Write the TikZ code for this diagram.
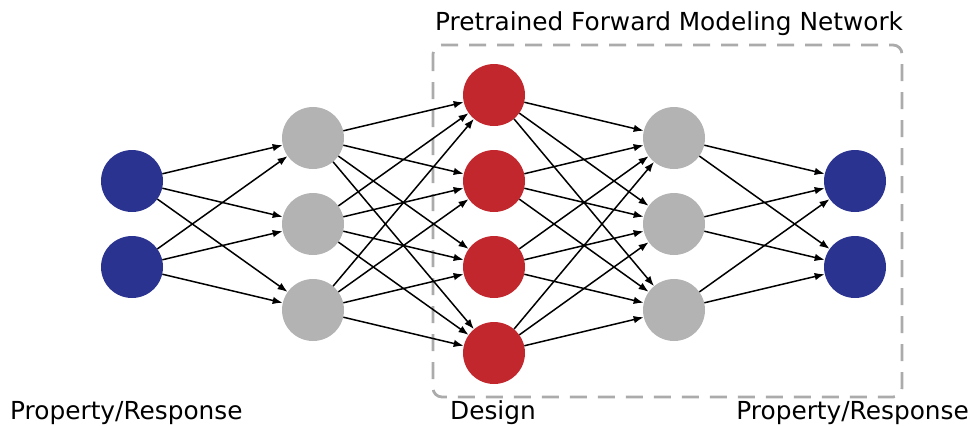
\documentclass[tikz,border=0pt]{standalone}
\usepackage{fontspec}
\setmainfont{DejaVu Sans}
\usetikzlibrary{arrows.meta,positioning}

\definecolor{netblue}{HTML}{2B3391}
\definecolor{netgray}{HTML}{B3B3B3}
\definecolor{netred}{HTML}{C1272D}
\definecolor{boxgray}{HTML}{ABABAB}

\tikzset{
  neuron/.style={circle, minimum size=62pt, inner sep=0pt, draw=none},
  wire/.style={line width=1.5pt, -{Latex[length=10pt,width=7.5pt]}},
  caption/.style={font=\fontsize{24.8}{29}\selectfont, inner sep=0pt}
}

\begin{document}
\begin{tikzpicture}[x=1pt, y=-1pt]
   \useasboundingbox (0,0) rectangle (970,426);
   % pretrained part
   \draw[boxgray, line width=2.8pt, dash pattern=on 17pt off 11pt, rounded corners=9pt]
     (433,45) rectangle (902,397);
   \node[caption, anchor=base west] (title) at (435,30) {Pretrained Forward Modeling Network};
   % layers
   \node[neuron, fill=netblue] (p1) at (132,181) {};
   \node[neuron, fill=netblue] (p2) at (132,267) {};
   \node[neuron, fill=netgray] (a1) at (313,138) {};
   \node[neuron, fill=netgray] (a2) at (313,224) {};
   \node[neuron, fill=netgray] (a3) at (313,310) {};
   \node[neuron, fill=netred] (d1) at (494,95) {};
   \node[neuron, fill=netred] (d2) at (494,181) {};
   \node[neuron, fill=netred] (d3) at (494,267) {};
   \node[neuron, fill=netred] (d4) at (494,353) {};
   \node[neuron, fill=netgray] (b1) at (674,138) {};
   \node[neuron, fill=netgray] (b2) at (674,224) {};
   \node[neuron, fill=netgray] (b3) at (674,310) {};
   \node[neuron, fill=netblue] (q1) at (855,181) {};
   \node[neuron, fill=netblue] (q2) at (855,267) {};
   % connections
   \foreach \i in {1,2} \foreach \j in {1,2,3} \draw[wire] (p\i) -- (a\j);
   \foreach \i in {1,2,3} \foreach \j in {1,...,4} \draw[wire] (a\i) -- (d\j);
   \foreach \i in {1,...,4} \foreach \j in {1,2,3} \draw[wire] (d\i) -- (b\j);
   \foreach \i in {1,2,3} \foreach \j in {1,2} \draw[wire] (b\i) -- (q\j);
   % labels
   \node[caption, anchor=base west] (lin) at (10,419) {Property/Response};
   \node[caption, anchor=base west] (ldes) at (450,419) {Design};
   \node[caption, anchor=base east] (lout) at (969,419) {Property/Response};
\end{tikzpicture}
\end{document}
